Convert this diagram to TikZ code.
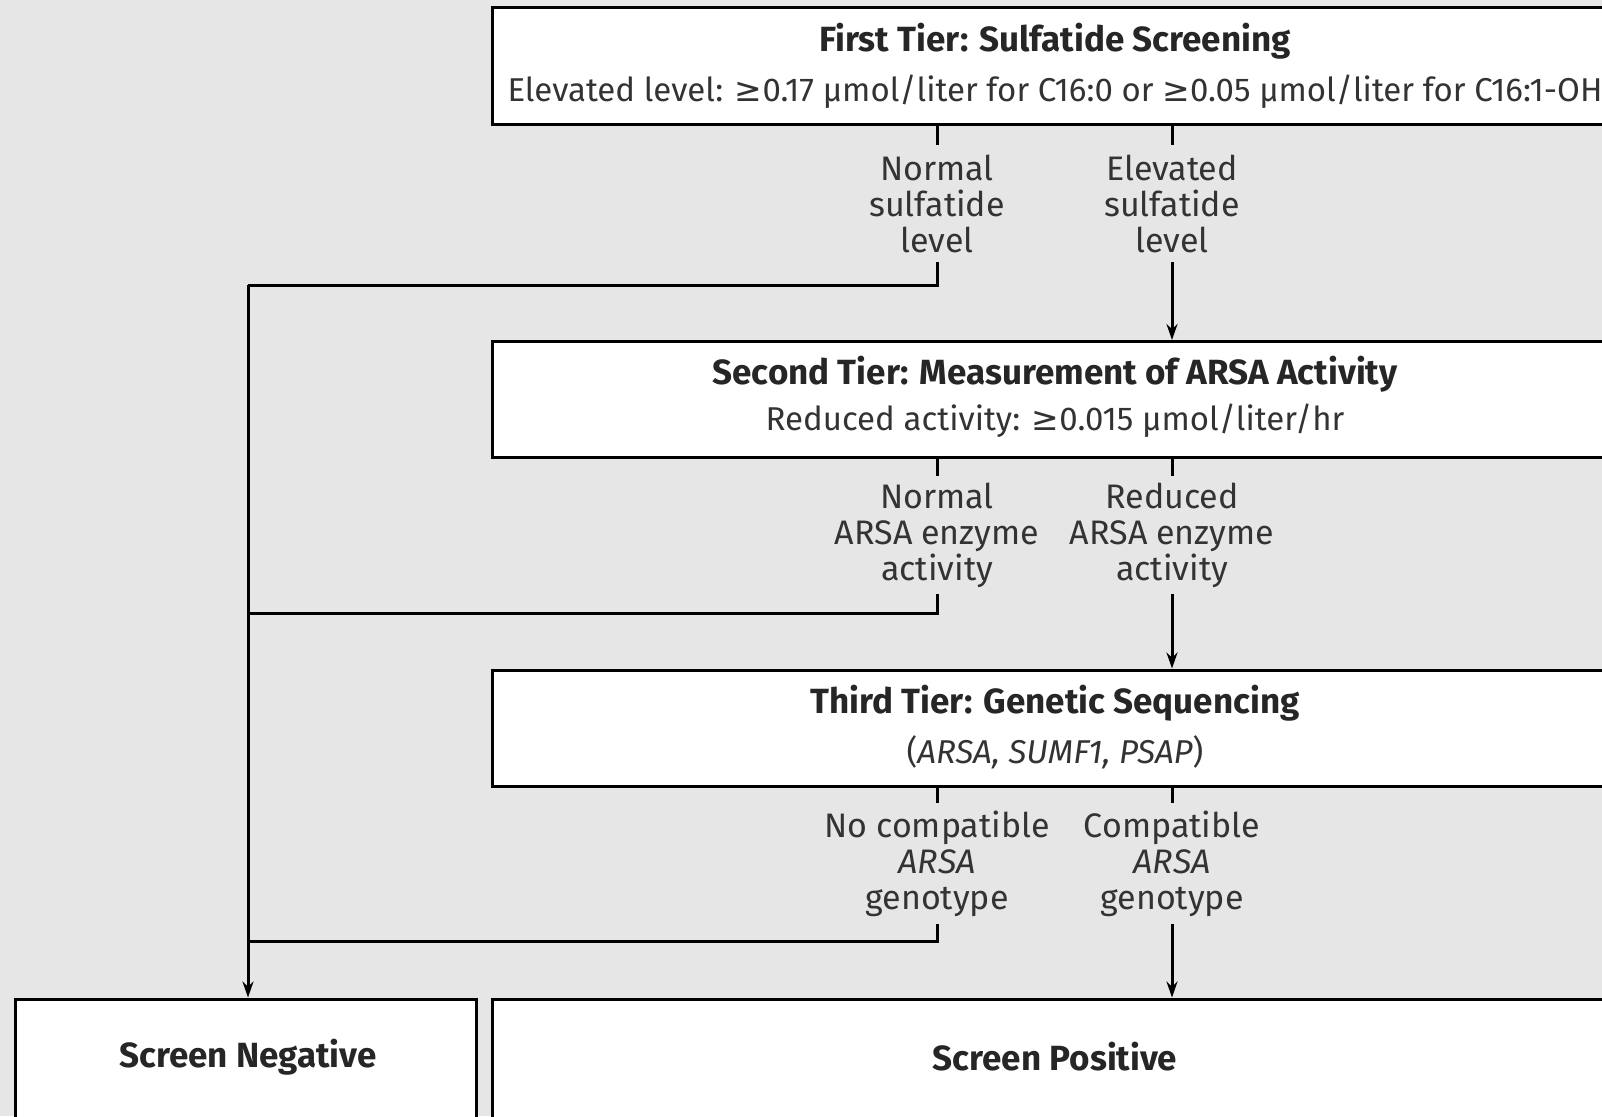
\documentclass[tikz,border=0pt]{standalone}
\usepackage{fontspec}
\setmainfont{Fira Sans}
\newfontfamily\symf{DejaVu Sans}
\usetikzlibrary{arrows.meta}
\definecolor{bg}{RGB}{230,230,230}
\newcommand{\gee}{{\symf ≥}}
\begin{document}
\begin{tikzpicture}[x=1pt,y=-1pt,
  tierbox/.style={draw=black, line width=3pt, fill=white, minimum width=1128pt, minimum height=116pt, inner sep=0pt},
  endbox/.style={draw=black, line width=3pt, fill=white, minimum height=140pt, inner sep=0pt},
  ttl/.style={font=\fontsize{35}{40}\selectfont\bfseries, inner sep=0pt, text=black!85},
  sub/.style={font=\fontsize{33}{38}\selectfont, inner sep=0pt, text=black!80},
  lab/.style={font=\fontsize{34}{36}\selectfont, align=center, inner sep=0pt, text=black!80},
  conn/.style={line width=3pt, draw=black},
  arr/.style={conn, -{Stealth[length=16pt,width=11pt]}}
]
\useasboundingbox (0,0) rectangle (1602,1116);
\fill[bg] (0,0) rectangle (1602,1116);
\begin{scope}
\clip (0,0) rectangle (1602,1116);
% tier boxes
\node[tierbox] (t1) at (1056,66) {};
\node[ttl] (t1a) at (1055,41) {First Tier: Sulfatide Screening};
\node[sub] (t1b) at (1055,92) {Elevated level: \gee0.17 µmol/liter for C16:0 or \gee0.05 µmol/liter for C16:1-OH};

\node[tierbox] (t2) at (1056,399.5) {};
\node[ttl] (t2a) at (1055,374) {Second Tier: Measurement of ARSA Activity};
\node[sub] (t2b) at (1055,421) {Reduced activity: \gee0.015 µmol/liter/hr};

\node[tierbox] (t3) at (1056,728) {};
\node[ttl] (t3a) at (1055,703) {Third Tier: Genetic Sequencing};
\node[sub] (t3b) at (1055,752) {(\textit{ARSA, SUMF1, PSAP})};

% result boxes
\node[endbox, minimum width=461pt] (neg) at (245.5,1069) {};
\node[ttl] (negt) at (248,1057) {Screen Negative};
\node[endbox, minimum width=1128pt] (pos) at (1056,1069) {};
\node[ttl] (post) at (1055,1057) {Screen Positive};

% branch labels
\node[lab, minimum height=117pt] (l1n) at (937,203.5) {Normal\\sulfatide\\level};
\node[lab, minimum height=117pt] (l1e) at (1172,203.5) {Elevated\\sulfatide\\level};
\node[lab, minimum height=118pt] (l2n) at (937,535) {Normal\\ARSA enzyme\\activity};
\node[lab, minimum height=118pt] (l2r) at (1172,535) {Reduced\\ARSA enzyme\\activity};
\node[lab, minimum height=121pt] (l3n) at (937,863.5) {No compatible\\\textit{ARSA}\\genotype};
\node[lab, minimum height=121pt] (l3c) at (1172,863.5) {Compatible\\\textit{ARSA}\\genotype};

% junction coordinates
\coordinate (j1) at (937,285);
\coordinate (j2) at (937,613);
\coordinate (j3) at (937,941);
\coordinate (c1) at (248,285);
\coordinate (c2) at (248,613);
\coordinate (c3) at (248,941);

% connectors tier 1
\draw[conn] (t1.south -| l1n) -- (l1n.north);
\draw[conn] (t1.south -| l1e) -- (l1e.north);
\draw[conn] (l1n.south) -- (j1) -- (c1);
\draw[arr] (l1e.south) -- (t2.north -| l1e);
% tier 2
\draw[conn] (t2.south -| l2n) -- (l2n.north);
\draw[conn] (t2.south -| l2r) -- (l2r.north);
\draw[conn] (l2n.south) -- (j2) -- (c2);
\draw[arr] (l2r.south) -- (t3.north -| l2r);
% tier 3
\draw[conn] (t3.south -| l3n) -- (l3n.north);
\draw[conn] (t3.south -| l3c) -- (l3c.north);
\draw[conn] (l3n.south) -- (j3) -- (c3);
\draw[arr] (l3c.south) -- (pos.north -| l3c);
% left collector
\draw[arr] (c1) -- (c1 |- neg.north);
\end{scope}
\end{tikzpicture}
\end{document}
